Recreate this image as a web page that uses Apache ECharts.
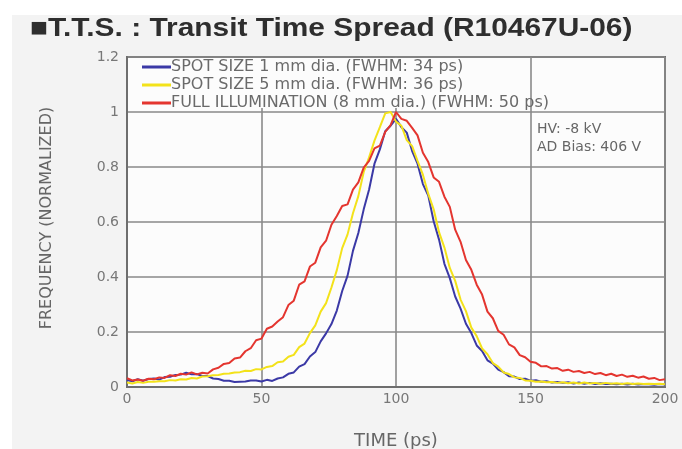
<!DOCTYPE html>
<html>
<head>
<meta charset="utf-8">
<script src="https://cdn.jsdelivr.net/npm/echarts@6/dist/echarts.min.js"></script>
<style>html,body{margin:0;padding:0;background:#fff}#c{width:682px;height:449px}</style>
</head>
<body>
<div id="c"></div>
<script>
const titleText = '■T.T.S. : Transit Time Spread (R10467U-06)';
const seriesNames = [
  'SPOT SIZE 1 mm dia. (FWHM: 34 ps)',
  'SPOT SIZE 5 mm dia. (FWHM: 36 ps)',
  'FULL ILLUMINATION (8 mm dia.) (FWHM: 50 ps)'
];
const seriesColors = ['#3b39a6', '#f3e21a', '#e4352f'];
const xTicks = [0, 50, 100, 150, 200];
const yTicks = [0, 0.2, 0.4, 0.6, 0.8, 1, 1.2];
const notes = ['HV: -8 kV', 'AD Bias: 406 V'];
const xName = 'TIME (ps)';
const yName = 'FREQUENCY (NORMALIZED)';

const time = [0,2,4,6,8,10,12,14,16,18,20,22,24,26,28,30,32,34,36,38,40,42,44,46,48,50,52,54,56,58,60,62,64,66,68,70,72,74,76,78,80,82,84,86,88,90,92,94,96,98,100,102,104,106,108,110,112,114,116,118,120,122,124,126,128,130,132,134,136,138,140,142,144,146,148,150,152,154,156,158,160,162,164,166,168,170,172,174,176,178,180,182,184,186,188,190,192,194,196,198,200];

const spot1 = [
  0.025,0.021,0.028,0.023,0.029,0.031,0.027,0.036,0.037,0.044,
  0.045,0.052,0.046,0.047,0.040,0.040,0.031,0.029,0.023,0.023,
  0.018,0.019,0.020,0.024,0.024,0.020,0.026,0.022,0.031,0.035,
  0.048,0.053,0.074,0.083,0.111,0.127,0.166,0.195,0.229,0.278,
  0.349,0.405,0.495,0.560,0.646,0.718,0.812,0.864,0.930,0.950,
  0.975,0.945,0.925,0.858,0.812,0.738,0.696,0.603,0.536,0.448,
  0.396,0.329,0.285,0.230,0.196,0.151,0.131,0.097,0.085,0.063,
  0.054,0.039,0.038,0.029,0.030,0.023,0.025,0.019,0.021,0.016,
  0.018,0.015,0.017,0.013,0.016,0.012,0.015,0.011,0.014,0.011,
  0.012,0.010,0.012,0.009,0.012,0.009,0.011,0.010,0.008,0.011,
  0.009];

const spot5 = [
  0.016,0.013,0.018,0.015,0.019,0.019,0.021,0.021,0.025,0.024,
  0.028,0.027,0.033,0.031,0.038,0.039,0.043,0.044,0.048,0.049,
  0.053,0.054,0.059,0.058,0.065,0.064,0.073,0.076,0.090,0.093,
  0.110,0.117,0.145,0.158,0.196,0.224,0.274,0.305,0.362,0.425,
  0.505,0.555,0.632,0.694,0.782,0.835,0.896,0.945,0.995,1.000,
  0.965,0.950,0.898,0.876,0.822,0.772,0.702,0.646,0.563,0.507,
  0.433,0.386,0.318,0.276,0.216,0.185,0.140,0.119,0.087,0.074,
  0.053,0.047,0.035,0.033,0.024,0.023,0.019,0.020,0.017,0.018,
  0.015,0.017,0.014,0.016,0.013,0.016,0.013,0.015,0.012,0.015,
  0.012,0.014,0.011,0.014,0.011,0.013,0.011,0.012,0.011,0.012,
  0.010];

const fullIllum = [
  0.032,0.024,0.027,0.023,0.030,0.028,0.035,0.033,0.043,0.040,
  0.048,0.045,0.053,0.046,0.052,0.049,0.064,0.070,0.084,0.087,
  0.104,0.107,0.130,0.141,0.170,0.176,0.212,0.220,0.238,0.254,
  0.298,0.314,0.372,0.384,0.438,0.452,0.508,0.532,0.590,0.622,
  0.658,0.664,0.718,0.744,0.798,0.822,0.868,0.878,0.928,0.952,
  1.000,0.975,0.968,0.942,0.915,0.852,0.818,0.762,0.746,0.692,
  0.655,0.572,0.528,0.462,0.426,0.372,0.336,0.274,0.250,0.204,
  0.190,0.155,0.144,0.116,0.108,0.092,0.088,0.075,0.076,0.067,
  0.069,0.059,0.063,0.055,0.058,0.051,0.055,0.047,0.051,0.043,
  0.048,0.040,0.045,0.037,0.041,0.034,0.038,0.030,0.033,0.025,
  0.028];

const seriesValues = [spot1, spot5, fullIllum];

const chart = echarts.init(document.getElementById('c'), null, {renderer: 'canvas'});
const font = '"DejaVu Sans"';

const option = {
  backgroundColor: '#ffffff',
  animation: false,
  grid: {left: 127, right: 17, top: 57, bottom: 62, show: true, backgroundColor: '#fcfcfc', borderColor: '#6e6e6e', borderWidth: 2},
  xAxis: {
    type: 'value', min: xTicks[0], max: xTicks[xTicks.length - 1], interval: 50,
    axisLine: {show: true, onZero: false, lineStyle: {color: '#6e6e6e', width: 2}},
    axisTick: {show: false},
    axisLabel: {color: '#777', fontSize: 14, fontFamily: 'DejaVu Sans', margin: 5},
    splitLine: {show: true, lineStyle: {color: '#8a8a8a', width: 1.6}}
  },
  yAxis: {
    type: 'value', min: yTicks[0], max: yTicks[yTicks.length - 1], interval: 0.2,
    axisLine: {show: true, lineStyle: {color: '#6e6e6e', width: 2}},
    axisTick: {show: false},
    axisLabel: {color: '#777', fontSize: 14, fontFamily: 'DejaVu Sans', margin: 8},
    splitLine: {show: true, lineStyle: {color: '#8a8a8a', width: 1.6}}
  },
  legend: {
    orient: 'vertical', left: 142, top: 59, itemWidth: 29, itemHeight: 3, itemGap: 2,
    icon: 'rect', padding: 0,
    textStyle: {color: '#6a6a6a', fontSize: 16, lineHeight: 15, fontFamily: 'DejaVu Sans', padding: [0, 0, 0, -5]},
    data: seriesNames
  },
  series: seriesNames.map((n, i) => ({
    name: n, type: 'line', showSymbol: false, symbol: 'none',
    lineStyle: {color: seriesColors[i], width: 2}, itemStyle: {color: seriesColors[i]},
    data: time.map((t, j) => [t, seriesValues[i][j]])
  })),
  graphic: [
    {type: 'rect', z: -10, shape: {x: 12, y: 15, width: 682, height: 449}, style: {fill: '#f3f3f3'}},
    {type: 'rect', z: 3, shape: {x: 138, y: 58, width: 340, height: 50}, style: {fill: '#fcfcfc'}},
    {type: 'text', x: 30, y: 29, scaleX: 1.15, style: {text: titleText, font: 'bold 26px "Liberation Sans"', fill: '#2e2e2e', verticalAlign: 'middle'}},
    {type: 'text', x: 537, y: 129, style: {text: notes[0], font: '14px ' + font, fill: '#666', verticalAlign: 'middle'}},
    {type: 'text', x: 537, y: 147, style: {text: notes[1], font: '14px ' + font, fill: '#666', verticalAlign: 'middle'}},
    {type: 'text', x: 396, y: 441, style: {text: xName, font: '18px ' + font, fill: '#666', align: 'center', verticalAlign: 'middle'}},
    {type: 'text', x: 47, y: 218, rotation: Math.PI / 2, style: {text: yName, font: '16px ' + font, fill: '#666', align: 'center', verticalAlign: 'middle'}}
  ]
};
chart.setOption(option);
</script>
</body>
</html>
